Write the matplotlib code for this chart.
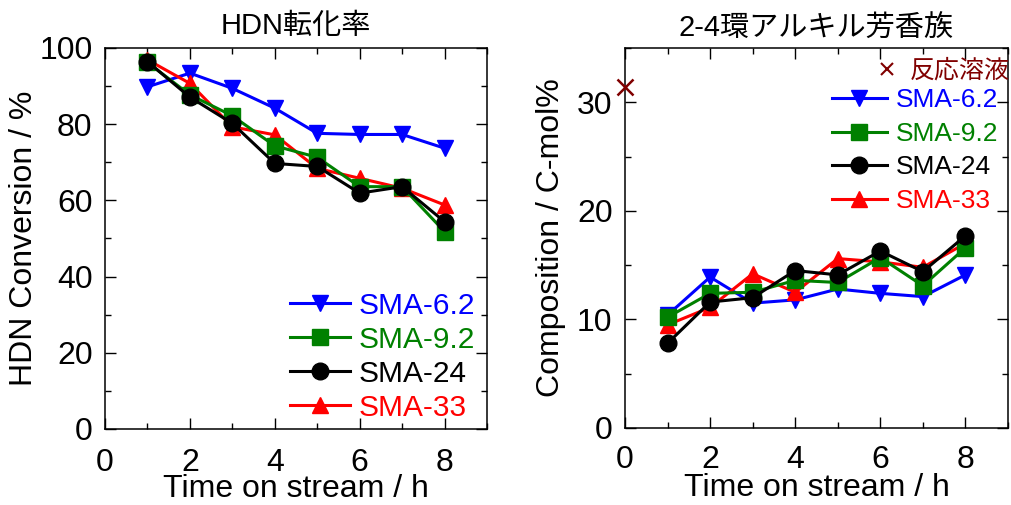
import matplotlib
matplotlib.use("Agg")
import matplotlib.pyplot as plt
from matplotlib.lines import Line2D
from matplotlib.ticker import MultipleLocator

plt.rcParams['font.family'] = ['Liberation Sans', 'Noto Sans CJK JP', 'DejaVu Sans']

# ---- data ----
hours = [1, 2, 3, 4, 5, 6, 7, 8]
series_names = ['SMA-6.2', 'SMA-9.2', 'SMA-24', 'SMA-33']

hdn_sma62 = [89.8, 93.4, 89.4, 84.2, 77.6, 77.3, 77.3, 73.7]
hdn_sma92 = [96.2, 87.7, 82.2, 74.3, 71.3, 63.6, 63.6, 51.8]
hdn_sma24 = [96.4, 87.1, 80.2, 69.7, 68.9, 61.9, 63.6, 54.4]
hdn_sma33 = [96.9, 90.7, 79.3, 77.2, 68.4, 65.8, 63.2, 58.8]

aro_sma62 = [10.4, 13.9, 11.5, 11.8, 12.8, 12.4, 12.1, 14.1]
aro_sma92 = [10.2, 12.4, 12.5, 13.6, 13.4, 15.7, 13.1, 16.6]
aro_sma24 = [7.8, 11.6, 12.0, 14.5, 14.1, 16.3, 14.4, 17.7]
aro_sma33 = [9.5, 11.1, 14.2, 12.5, 15.6, 15.3, 14.8, 17.0]

feed_time = [0]
feed_value = [31.4]
feed_label = '反応溶液'

title_left = 'HDN転化率'
title_right = '2-4環アルキル芳香族'
xlabel = 'Time on stream / h'
ylabel_left = 'HDN Conversion / %'
ylabel_right = 'Composition / C-mol%'

colors = ['#0000FF', '#008000', '#000000', '#FF0000']
markers = ['v', 's', 'o', '^']
zorders = [3, 5, 6, 4]

FS = 23
LFS = 21.5
RFS = 19
TFS = 21
fig = plt.figure(figsize=(10.11, 5.05), dpi=100)
axL = fig.add_axes([0.1039, 0.1505, 0.3778, 0.7545])
axR = fig.add_axes([0.6182, 0.1525, 0.3788, 0.7525])


def style(ax, xpad):
    ax.tick_params(which='both', direction='in', top=True, right=True,
                   labelsize=FS, width=1.0)
    ax.tick_params(which='major', length=8)
    ax.tick_params(which='minor', length=4.5)
    ax.tick_params(axis='x', which='major', pad=xpad)
    ax.tick_params(axis='y', which='major', pad=9)
    for s in ax.spines.values():
        s.set_linewidth(1.1)
    ax.set_xlim(0, 9)
    ax.xaxis.set_major_locator(MultipleLocator(2))
    ax.xaxis.set_minor_locator(MultipleLocator(1))


def legend(ax, handles, labels, fs, hl, htp, ls, **kw):
    leg = ax.legend(handles, labels, frameon=False, fontsize=fs,
                    handlelength=hl, handletextpad=htp, labelspacing=ls,
                    borderaxespad=0.0, borderpad=0.0, **kw)
    for t, c in zip(leg.get_texts(), colors):
        t.set_color(c)
    return leg


# left
hdn = [hdn_sma62, hdn_sma92, hdn_sma24, hdn_sma33]
hL = []
for y, c, m, z, n in zip(hdn, colors, markers, zorders, series_names):
    ln, = axL.plot(hours, y, color=c, marker=m, markersize=12, linewidth=2.2,
                   zorder=z, label=n, clip_on=False)
    hL.append(ln)
style(axL, 14)
axL.set_ylim(0, 100)
axL.yaxis.set_major_locator(MultipleLocator(20))
axL.yaxis.set_minor_locator(MultipleLocator(10))
axL.set_title(title_left, fontsize=TFS, pad=10)
axL.set_xlabel(xlabel, fontsize=FS, labelpad=-3)
axL.set_ylabel(ylabel_left, fontsize=FS, labelpad=0)
legend(axL, hL, series_names, LFS, 2.0, 0.3, 0.2,
       loc='upper left', bbox_to_anchor=(0.485, 0.360))

# right
aro = [aro_sma62, aro_sma92, aro_sma24, aro_sma33]
hR = []
for y, c, m, z, n in zip(aro, colors, markers, zorders, series_names):
    ln, = axR.plot(hours, y, color=c, marker=m, markersize=12, linewidth=2.2,
                   zorder=z, label=n, clip_on=False)
    hR.append(ln)
axR.plot(feed_time, feed_value, linestyle='none', marker='x', color='#800000',
         markersize=12, markeredgewidth=1.8, clip_on=False, zorder=7)
style(axR, 12)
axR.set_ylim(0, 35)
axR.yaxis.set_major_locator(MultipleLocator(10))
axR.yaxis.set_minor_locator(MultipleLocator(5))
axR.set_title(title_right, fontsize=TFS, pad=8)
axR.set_xlabel(xlabel, fontsize=FS, labelpad=-1)
axR.set_ylabel(ylabel_right, fontsize=FS, labelpad=8)
legR = legend(axR, hR, series_names, RFS, 2.08, 0.34, 0.36,
              loc='upper left', bbox_to_anchor=(0.54, 0.894))
axR.add_artist(legR)
xh = Line2D([], [], linestyle='none', marker='x', color='#800000',
            markersize=8, markeredgewidth=1.5)
leg2 = axR.legend([xh], [feed_label], frameon=False, fontsize=18,
                  handlelength=0.9, handletextpad=0.45, borderaxespad=0.0,
                  borderpad=0.0, loc='upper left', bbox_to_anchor=(0.655, 0.972))
leg2.get_texts()[0].set_color('#800000')

fig.savefig('out.png', dpi=100)
